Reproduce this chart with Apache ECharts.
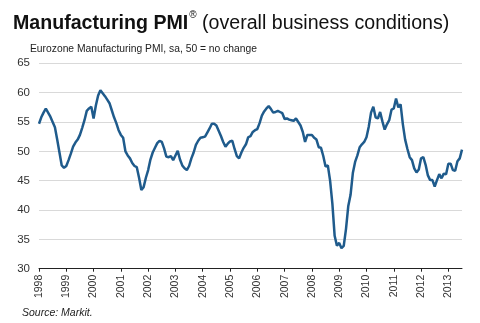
<!DOCTYPE html>
<html>
<head>
<meta charset="utf-8">
<script src="https://cdn.jsdelivr.net/npm/echarts@6/dist/echarts.min.js"></script>
<style>html,body{margin:0;padding:0;background:#fff}#c{width:480px;height:323px}</style>
</head>
<body>
<div id="c"></div>
<script>
var years = ['1998','1999','2000','2001','2002','2003','2004','2005','2006','2007','2008','2009','2010','2011','2012','2013'];
var monthNames = ['01','02','03','04','05','06','07','08','09','10','11','12'];
var yTicks = [30, 35, 40, 45, 50, 55, 60, 65];

var pmi1998 = [54.7,55.8,56.6,57.3,56.6,55.9,55.0,54.1,52.0,49.8,47.6,47.2];
var pmi1999 = [47.5,48.5,49.6,50.8,51.5,52.0,52.8,54.0,55.3,56.9,57.3,57.6];
var pmi2000 = [55.6,57.8,59.5,60.4,59.9,59.4,58.8,58.2,57.0,55.8,54.8,53.6];
var pmi2001 = [52.8,52.3,50.0,49.3,48.8,48.0,47.5,47.3,45.5,43.4,43.9,45.5];
var pmi2002 = [46.8,48.6,49.8,50.6,51.4,51.8,51.6,50.5,49.1,49.0,49.2,48.5];
var pmi2003 = [49.3,50.1,48.6,47.6,47.1,46.8,47.5,48.8,49.8,51.1,51.8,52.3];
var pmi2004 = [52.4,52.5,53.2,53.9,54.7,54.7,54.4,53.5,52.6,51.6,50.8,51.3];
var pmi2005 = [51.7,51.8,50.4,49.2,48.8,49.8,50.6,51.2,52.4,52.6,53.3,53.6];
var pmi2006 = [53.8,54.8,56.1,56.8,57.3,57.7,57.2,56.6,56.7,56.9,56.7,56.5];
var pmi2007 = [55.5,55.6,55.4,55.3,55.2,55.6,55.0,54.4,53.3,51.6,52.8,52.8];
var pmi2008 = [52.8,52.3,52.0,50.7,50.6,49.2,47.4,47.6,45.0,41.1,35.6,33.9];
var pmi2009 = [34.4,33.5,33.9,36.8,40.7,42.6,46.3,48.2,49.3,50.7,51.2,51.6];
var pmi2010 = [52.4,54.2,56.6,57.6,55.8,55.6,56.7,55.1,53.7,54.6,55.3,57.1];
var pmi2011 = [57.3,59.0,57.5,58.0,54.6,52.0,50.4,49.0,48.5,47.1,46.4,46.9];
var pmi2012 = [48.8,49.0,47.7,45.9,45.1,45.1,44.0,45.1,46.1,45.4,46.2,46.1];
var pmi2013 = [47.9,47.9,46.8,46.7,48.3,48.8,50.3];

var values = [].concat(pmi1998,pmi1999,pmi2000,pmi2001,pmi2002,pmi2003,pmi2004,pmi2005,
  pmi2006,pmi2007,pmi2008,pmi2009,pmi2010,pmi2011,pmi2012,pmi2013);
var categories = [];
for (var i = 0; i < values.length; i++) {
  categories.push(years[Math.floor(i / 12)] + '-' + monthNames[i % 12]);
}

var chart = echarts.init(document.getElementById('c'), null, {renderer: 'canvas'});
var font = 'Liberation Sans, Arial, sans-serif';
chart.setOption({
  animation: false,
  backgroundColor: '#ffffff',
  title: [{
    text: '{b|Manufacturing PMI}{s|®}{r| (overall business conditions)}',
    left: 13, top: 10, padding: 0,
    textStyle: {
      fontWeight: 'normal',
      rich: {
        b: {fontFamily: font, fontWeight: 'bold', fontSize: 19.6, color: '#111', lineHeight: 24, verticalAlign: 'bottom'},
        s: {fontFamily: font, fontWeight: 'normal', fontSize: 10, color: '#111', lineHeight: 24, verticalAlign: 'top', padding: [0,0,0,1]},
        r: {fontFamily: font, fontWeight: 'normal', fontSize: 19.6, color: '#111', lineHeight: 24, verticalAlign: 'bottom'}
      }
    }
  }, {
    text: 'Eurozone Manufacturing PMI, sa, 50 = no change',
    left: 30, top: 44, padding: 0,
    textStyle: {fontFamily: font, fontSize: 10.3, fontWeight: 'normal', color: '#222'}
  }, {
    text: 'Source: Markit.',
    left: 22, top: 308, padding: 0,
    textStyle: {fontFamily: font, fontSize: 10.5, fontWeight: 'normal', fontStyle: 'italic', color: '#222'}
  }],
  grid: {left: 39, right: 18, top: 63.3, bottom: 54.3, containLabel: false},
  xAxis: {
    type: 'category',
    data: categories,
    boundaryGap: false,
    axisLine: {show: true, lineStyle: {color: '#222', width: 1}},
    axisTick: {show: true, length: 3, lineStyle: {color: '#222'},
      interval: function (idx) { return idx % 12 === 0; }},
    axisLabel: {
      interval: function (idx) { return idx % 12 === 0; },
      formatter: function (v) { return v.slice(0, 4); },
      rotate: 90, margin: 6,
      fontFamily: font, fontSize: 10.5, color: '#333'
    },
    splitLine: {show: false}
  },
  yAxis: {
    type: 'value',
    min: yTicks[0], max: yTicks[yTicks.length - 1], interval: 5,
    axisLine: {show: false},
    axisTick: {show: false},
    axisLabel: {margin: 9, fontFamily: font, fontSize: 11.5, color: '#333'},
    splitLine: {lineStyle: {color: '#d9d9d9', width: 1}}
  },
  series: [{
    type: 'line',
    data: values,
    showSymbol: false,
    symbol: 'none',
    lineStyle: {color: '#1f5b8c', width: 2.5},
    z: 3
  }]
});
</script>
</body>
</html>
